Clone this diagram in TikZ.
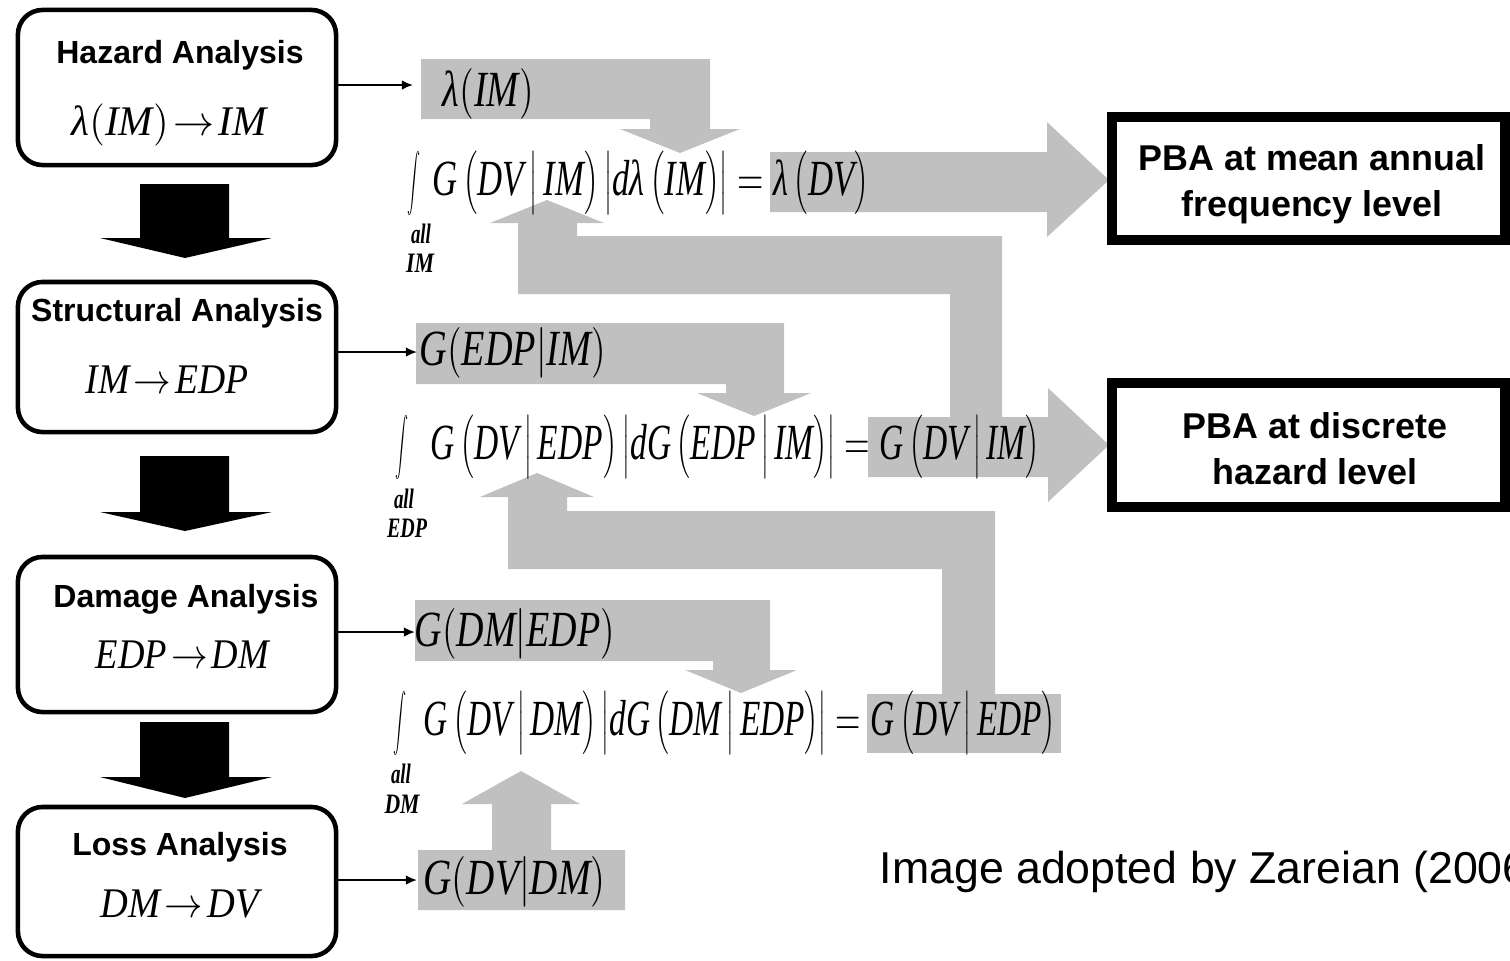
\documentclass[tikz,border=0pt]{standalone}
\usepackage{fontspec}
\usepackage{graphicx}
\usetikzlibrary{arrows.meta}
\newfontfamily\labelfont{Liberation Sans}
\newfontfamily\tms{Liberation Serif}
\definecolor{flowgray}{RGB}{192,192,192}
\newlength\pu
\setlength\pu{0.01cm}
% italic variable names
\newcommand\tv[1]{\mbox{\tms\itshape #1}}
% formula set at a given width (in px units), natural height
\newcommand\fml[2]{\resizebox{#1\pu}{\height}{\Large$\displaystyle #2$}}
\newcommand\bxf[2]{\resizebox{#1\pu}{\height}{\large$\displaystyle #2$}}
\newcommand\intg{\resizebox*{13\pu}{64\pu}{$\displaystyle\int$}}
\newcommand\rng[2]{\resizebox{#1\pu}{\height}{\footnotesize\tms\bfseries\itshape #2}}
% strut that selects the next delimiter size
\newcommand\sr{\vrule height 12pt depth 4.9pt width 0pt}
% conditional distribution a(b|c) with tall delimiters
\newcommand\cnd[3]{\tv{#1}\left(\sr\tv{#2}\,\middle|\,\tv{#3}\right)}
% black block arrow between two stages
\newcommand\blockdown[3]{\fill[black] (140,#1) -- (229,#1) -- (229,#2) -- (272,#2) -- (185,#3) -- (100,#2) -- (140,#2) -- cycle;}
\tikzset{
  stage/.style={draw, line width=1.3pt, rounded corners=7pt, minimum width=3.18cm, inner sep=0},
  pba/.style={draw, line width=2.85pt, minimum width=3.93cm, minimum height=1.23cm, inner sep=0},
  ttl/.style={font={\labelfont\bfseries\fontsize{9.1}{11}\selectfont}, inner sep=0, anchor=base},
  pbatxt/.style={font={\labelfont\bfseries\fontsize{10.2}{12}\selectfont}, inner sep=0, anchor=base},
  eq/.style={inner sep=0, anchor=west},
  ctr/.style={inner sep=0},
  feed/.style={-{Latex[length=3.2pt,width=2.8pt]}, line width=0.6pt},
  band/.style={fill=flowgray}
}
\begin{document}
\begin{tikzpicture}[x=0.01cm, y=-0.01cm]
\useasboundingbox (0,0) rectangle (1510,960);

% gray flow bands
\fill[band] (421,59) -- (710,59) -- (710,129) -- (740,129) -- (680,153) -- (620,129) -- (650,129) -- (650,119) -- (421,119) -- cycle;
\fill[band] (770,152) -- (1047,152) -- (1047,122) -- (1109,180) -- (1047,237) -- (1047,212) -- (770,212) -- cycle;
\fill[band] (1002,417) -- (1002,236) -- (577,236) -- (577,223) -- (604,223) -- (547,200) -- (490,223) -- (518,223) -- (518,294) -- (950,294) -- (950,417) -- cycle;
\fill[band] (868,417) -- (1048,417) -- (1048,388) -- (1109,445) -- (1048,502) -- (1048,477) -- (868,477) -- cycle;
\fill[band] (416,323) -- (784,323) -- (784,393) -- (811,393) -- (754,416) -- (697,393) -- (726,393) -- (726,384) -- (416,384) -- cycle;
\fill[band] (995,695) -- (995,511) -- (567,511) -- (567,497) -- (594,497) -- (537,473) -- (480,497) -- (508,497) -- (508,569) -- (942,569) -- (942,695) -- cycle;
\fill[band] (415,600) -- (770,600) -- (770,670) -- (797,670) -- (741,693) -- (685,670) -- (713,670) -- (713,661) -- (415,661) -- cycle;
\fill[band] (867,694) rectangle (1061,753);
\fill[band] (418,910) -- (418,850) -- (492,850) -- (492,804) -- (462,804) -- (521,771) -- (580,804) -- (551,804) -- (551,850) -- (625,850) -- (625,910) -- cycle;

% analysis stages
\node[stage, minimum height=1.55cm] (hz) at (177,87.5) {};
\node[stage, minimum height=1.50cm] (st) at (177,357) {};
\node[stage, minimum height=1.55cm] (dm) at (177,634.5) {};
\node[stage, minimum height=1.49cm] (ls) at (177,881.5) {};

\node[ttl] (hzt) at (180,63.5) {Hazard Analysis};
\node[ttl] (stt) at (177,321.5) {Structural Analysis};
\node[ttl] (dmt) at (186,607.5) {Damage Analysis};
\node[ttl] (lst) at (180,855.5) {Loss Analysis};

\node[eq] (hzf) at (71,125) {\bxf{195}{\tv{λ}\bigl(\tv{IM}\bigr)\!\rightarrow\!\tv{IM}}};
\node[eq] (stf) at (85,380) {\bxf{163}{\tv{IM}\!\rightarrow\!\tv{EDP}}};
\node[eq] (dmf) at (95,655) {\bxf{173}{\tv{EDP}\!\rightarrow\!\tv{DM}}};
\node[eq] (lsf) at (100,904) {\bxf{158}{\tv{DM}\!\rightarrow\!\tv{DV}}};

% black arrows between stages
\blockdown{184}{238}{258}
\blockdown{456}{512}{531}
\blockdown{722}{777}{798}

% outputs of each stage
\coordinate (in1) at (413,85);
\coordinate (in2) at (417,352);
\coordinate (in3) at (415,632);
\coordinate (in4) at (417,880);
\draw[feed] (hz.east |- in1) -- (in1);
\draw[feed] (st.east |- in2) -- (in2);
\draw[feed] (dm.east |- in3) -- (in3);
\draw[feed] (ls.east |- in4) -- (in4);

\node[eq] (o1) at (442,94) {\fml{91}{\tv{λ}\bigl(\tv{IM}\bigr)}};
\node[eq] (o2) at (419,353) {\fml{186}{\tv{G}\bigl(\tv{EDP}\big|\tv{IM}\bigr)}};
\node[eq] (o3) at (414,634) {\fml{200}{\tv{G}\bigl(\tv{DM}\big|\tv{EDP}\bigr)}};
\node[eq] (o4) at (423,882) {\fml{182}{\tv{G}\bigl(\tv{DV}\big|\tv{DM}\bigr)}};

% integrals over all values
\node[ctr] (i1) at (414,183) {\intg};
\node[ctr] (i2) at (402,447) {\intg};
\node[ctr] (i3) at (400,723) {\intg};
\node[ctr] (a1) at (421,234) {\rng{20}{all}};
\node[ctr] (r1) at (420,263) {\rng{28}{IM}};
\node[ctr] (a2) at (404,499) {\rng{20}{all}};
\node[ctr] (r2) at (407,528) {\rng{40}{EDP}};
\node[ctr] (a3) at (401,774) {\rng{20}{all}};
\node[ctr] (r3) at (402,804) {\rng{35}{DM}};

\node[eq] (e1) at (432,183) {\fml{436}{\cnd{G}{DV}{IM}\left|\sr\tv{dλ}\left(\sr\tv{IM}\right)\right|=\tv{λ}\left(\sr\tv{DV}\right)}};
\node[eq] (e2) at (430,447) {\fml{609}{\cnd{G}{DV}{EDP}\left|\sr\cnd{dG}{EDP}{IM}\right|=\cnd{G}{DV}{IM}}};
\node[eq] (e3) at (423,723) {\fml{632}{\cnd{G}{DV}{DM}\left|\sr\cnd{dG}{DM}{EDP}\right|=\cnd{G}{DV}{EDP}}};

% performance-based assessment outcomes
\node[pba] (pba1) at (1308.5,178.5) {};
\node[pba] (pba2) at (1308.5,445) {};
\node[pbatxt] (p1a) at (1312,170.5) {PBA at mean annual};
\node[pbatxt] (p1b) at (1312,216.5) {frequency level};
\node[pbatxt] (p2a) at (1315,438) {PBA at discrete};
\node[pbatxt] (p2b) at (1315,484) {hazard level};

\begin{scope}
\clip (0,0) rectangle (1510,960);
\node[inner sep=0, anchor=base west, font={\labelfont\fontsize{12.7}{15}\selectfont}] (cap) at (879,883) {Image adopted by Zareian (2006)};
\end{scope}
\end{tikzpicture}
\end{document}
